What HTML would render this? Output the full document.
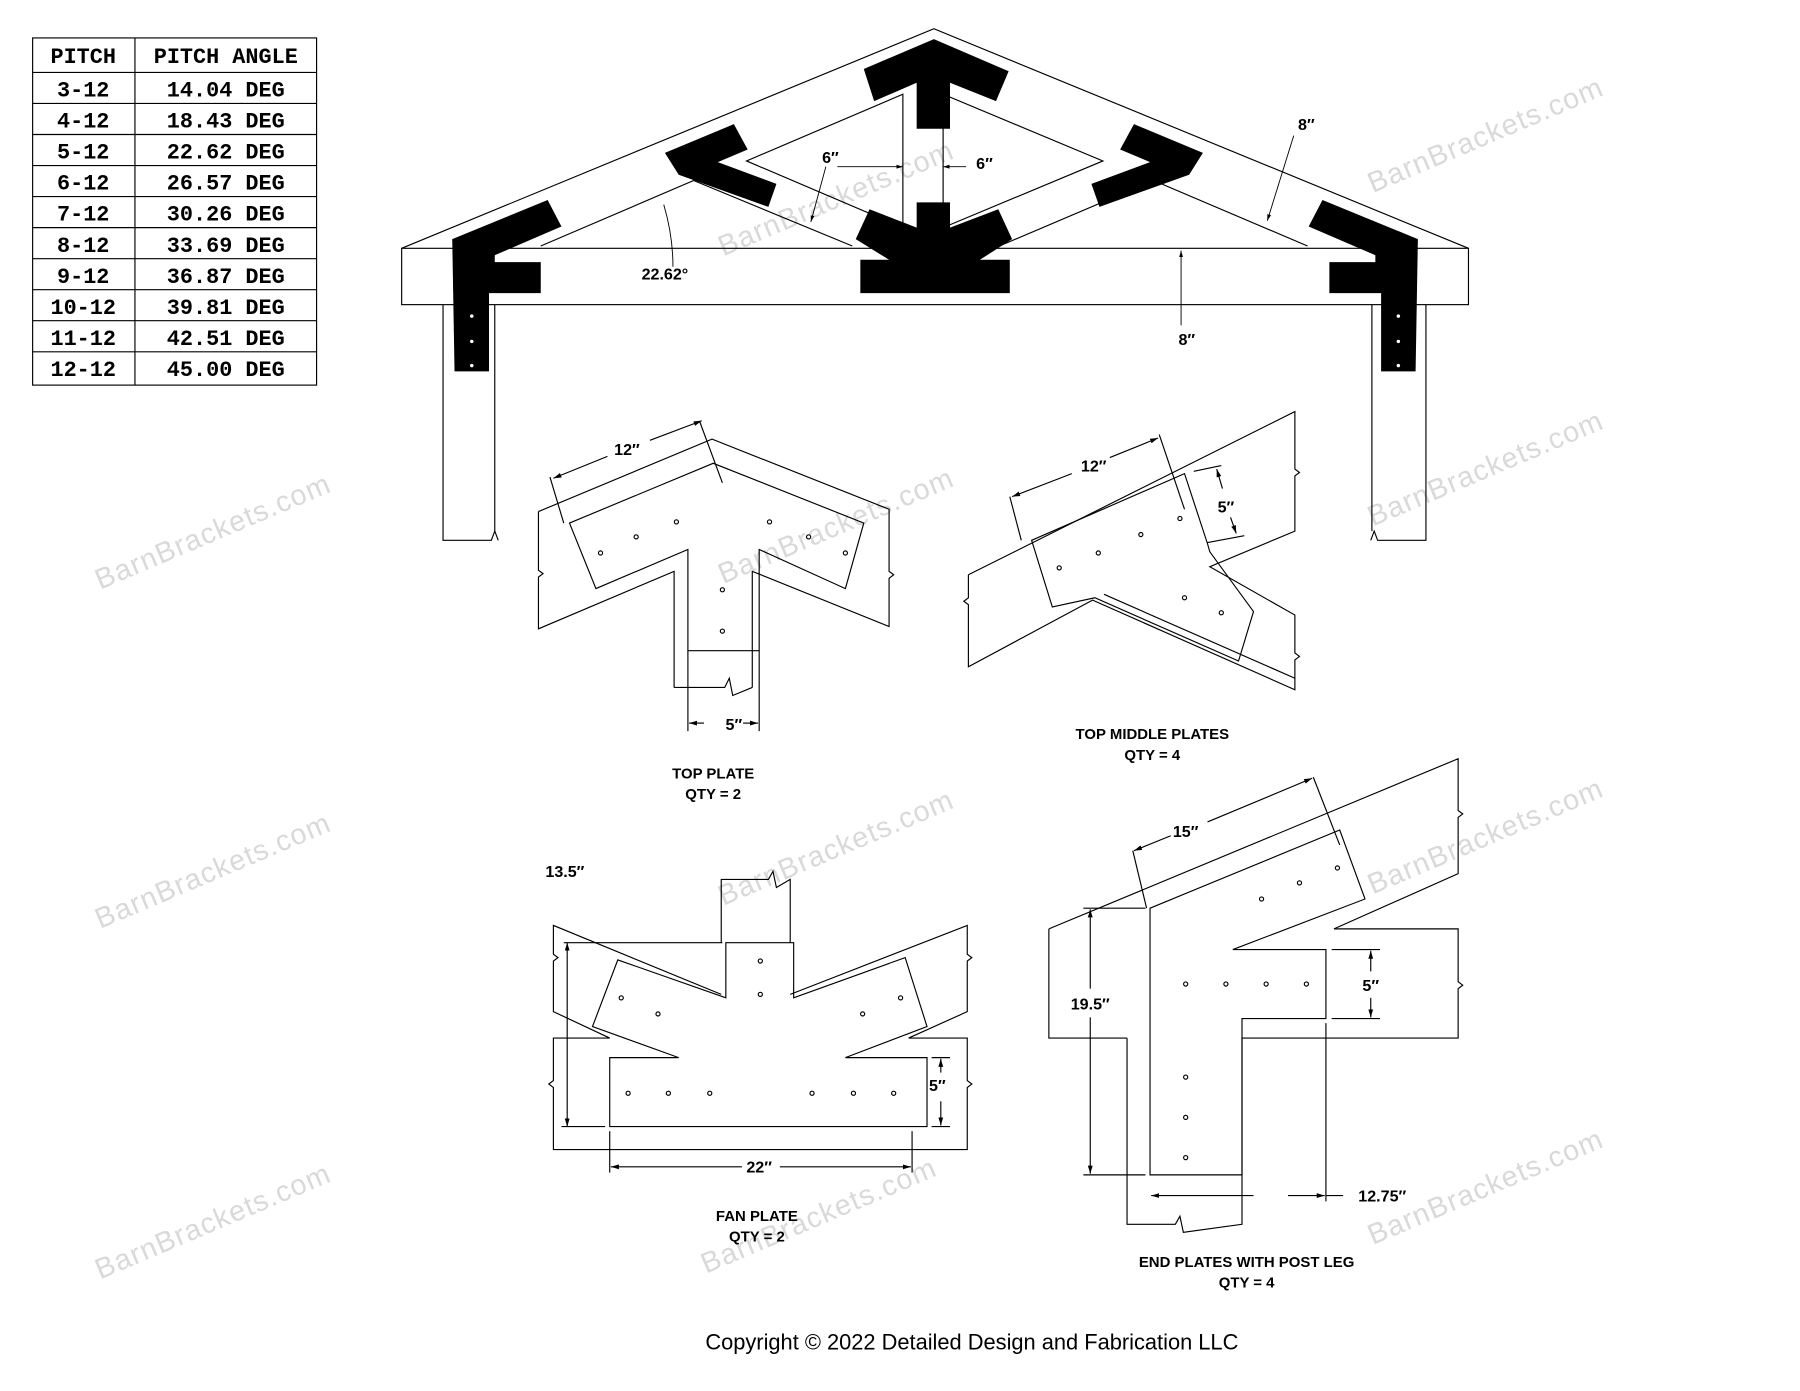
<!DOCTYPE html>
<html><head><meta charset="utf-8"><style>
html,body{margin:0;padding:0;background:#fff;}
svg{display:block}
text{font-family:"Liberation Sans",sans-serif;}
.t text{font-family:"Liberation Mono",monospace;font-weight:bold;font-size:19px;}
.l{font-size:13px;font-weight:bold;text-anchor:middle;}
.d{font-size:14px;font-weight:bold;text-anchor:middle;}
.w{font-size:25px;fill:#d9d9d9;text-anchor:middle;letter-spacing:1px;}
</style></head><body>
<svg width="1800" height="1391" viewBox="0 0 1565 1210" xmlns="http://www.w3.org/2000/svg">
<defs>
<marker id="a" viewBox="0 0 10 10" refX="10" refY="5" markerWidth="7" markerHeight="7" orient="auto-start-reverse"><path d="M0,2 L10,5 L0,8z" fill="#000"/></marker>
</defs>
<!-- watermarks -->
<g>
<text class="w" transform="translate(188,470) rotate(-23)">BarnBrackets.com</text>
<text class="w" transform="translate(188,765) rotate(-23)">BarnBrackets.com</text>
<text class="w" transform="translate(188,1070) rotate(-23)">BarnBrackets.com</text>
<text class="w" transform="translate(730,180) rotate(-23)">BarnBrackets.com</text>
<text class="w" transform="translate(730,465) rotate(-23)">BarnBrackets.com</text>
<text class="w" transform="translate(730,745) rotate(-23)">BarnBrackets.com</text>
<text class="w" transform="translate(715,1065) rotate(-23)">BarnBrackets.com</text>
<text class="w" transform="translate(1295,125) rotate(-23)">BarnBrackets.com</text>
<text class="w" transform="translate(1295,415) rotate(-23)">BarnBrackets.com</text>
<text class="w" transform="translate(1295,735) rotate(-23)">BarnBrackets.com</text>
<text class="w" transform="translate(1295,1040) rotate(-23)">BarnBrackets.com</text>
</g>

<!-- pitch table -->
<g stroke="#000" stroke-width="1" fill="none">
<rect x="28" y="33" width="247" height="302"/>
<line x1="117" y1="33" x2="117" y2="335"/>
<line x1="28" y1="63" x2="275" y2="63"/>
<line x1="28" y1="90" x2="275" y2="90"/><line x1="28" y1="117" x2="275" y2="117"/>
<line x1="28" y1="144" x2="275" y2="144"/><line x1="28" y1="171" x2="275" y2="171"/>
<line x1="28" y1="198" x2="275" y2="198"/><line x1="28" y1="225" x2="275" y2="225"/>
<line x1="28" y1="252" x2="275" y2="252"/><line x1="28" y1="279" x2="275" y2="279"/>
<line x1="28" y1="306" x2="275" y2="306"/>
</g>
<g class="t" text-anchor="middle">
<text x="72" y="55">PITCH</text><text x="196" y="55">PITCH ANGLE</text>
<text x="72" y="84">3-12</text><text x="196" y="84">14.04 DEG</text>
<text x="72" y="111">4-12</text><text x="196" y="111">18.43 DEG</text>
<text x="72" y="138">5-12</text><text x="196" y="138">22.62 DEG</text>
<text x="72" y="165">6-12</text><text x="196" y="165">26.57 DEG</text>
<text x="72" y="192">7-12</text><text x="196" y="192">30.26 DEG</text>
<text x="72" y="219">8-12</text><text x="196" y="219">33.69 DEG</text>
<text x="72" y="246">9-12</text><text x="196" y="246">36.87 DEG</text>
<text x="72" y="273">10-12</text><text x="196" y="273">39.81 DEG</text>
<text x="72" y="300">11-12</text><text x="196" y="300">42.51 DEG</text>
<text x="72" y="327">12-12</text><text x="196" y="327">45.00 DEG</text>
</g>

<!-- main truss -->
<g stroke="#000" stroke-width="1" fill="none">
<polyline points="349,216 812,25 1277,216"/>
<rect x="349" y="216" width="928" height="49"/>
<polyline points="385,265 385,470 427,470 430,462 433,470"/>
<line x1="430" y1="265" x2="430" y2="462"/>
<polyline points="1240,265 1240,470 1198,470 1195,462 1192,470"/>
<line x1="1193" y1="265" x2="1193" y2="462"/>
<polyline points="470,214 603,157 741,214"/>
<polyline points="869,214 1003,157 1137,214"/>
<polyline points="785,198 649,140 785,82 785,198"/>
<polyline points="820,198 959,140 820,82 820,198"/>
</g>
<!-- black brackets -->
<g fill="#000">
<polygon points="751,60 812,34 877,62 866,88 826,72 826,112 797,112 797,72 760,88"/>
<polygon points="797,176 826,176 826,198 868,182 880,208 852,226 878,226 878,255 748,255 748,226 773,226 744,208 756,182 797,198"/>
<polygon points="578,133 638,108 650,130 624,141 675,160 668,180 590,152"/>
<polygon points="1046,133 986,108 974,130 1000,141 949,160 956,180 1034,152"/>
<polygon points="393,208 476,174 488,197 430,222 430,228 470,228 470,255 425,255 425,323 395,323"/>
<polygon points="1233,208 1150,174 1138,197 1196,222 1196,228 1156,228 1156,255 1201,255 1201,323 1231,323"/>
</g>
<g fill="#fff">
<circle cx="410" cy="275" r="1.5"/><circle cx="410" cy="297" r="1.5"/><circle cx="410" cy="318" r="1.5"/>
<circle cx="1216" cy="275" r="1.5"/><circle cx="1216" cy="297" r="1.5"/><circle cx="1216" cy="318" r="1.5"/>
</g>
<!-- main dims -->
<g stroke="#000" stroke-width="0.8" fill="none">
<line x1="728" y1="145" x2="785" y2="145" marker-end="url(#a)"/>
<line x1="840" y1="145" x2="820" y2="145" marker-end="url(#a)"/>
<line x1="718" y1="145" x2="705" y2="193" marker-end="url(#a)"/>
<line x1="1125" y1="118" x2="1102" y2="192" marker-end="url(#a)"/>
<line x1="1027" y1="283" x2="1027" y2="218" marker-end="url(#a)"/>
<path d="M577,178 Q585,205 585,232"/>
</g>
<g class="d">
<text x="722" y="142">6″</text><text x="856" y="147">6″</text>
<text x="1136" y="113">8″</text><text x="1032" y="300">8″</text>
<text x="578" y="243">22.62°</text>
</g>

<!-- top plate detail -->
<g stroke="#000" stroke-width="1" fill="none">
<polyline points="468,445 619,382 773,443 773,497 777,500 773,503 773,545 654,497 654,598"/>
<polyline points="586,598 586,497 468,547 468,502 472,499 468,496 468,445"/>
<polyline points="586,598 630,598 634,590 637,605 654,598"/>
<polygon points="495,455 620,403 751,455 735,512 660,478 660,566 598,566 598,478 518,512"/>
<line x1="598" y1="566" x2="598" y2="636"/><line x1="660" y1="566" x2="660" y2="636"/>
<line x1="612" y1="629" x2="599" y2="629" marker-end="url(#a)"/>
<line x1="646" y1="629" x2="659" y2="629" marker-end="url(#a)"/>
<line x1="478" y1="415" x2="490" y2="455"/>
<line x1="608" y1="366" x2="628" y2="420"/>
<line x1="528" y1="397" x2="481" y2="416" marker-end="url(#a)"/>
<line x1="565" y1="383" x2="610" y2="366" marker-end="url(#a)"/>
<circle cx="522" cy="481" r="1.8"/><circle cx="553" cy="467" r="1.8"/><circle cx="588" cy="454" r="1.8"/>
<circle cx="669" cy="454" r="1.8"/><circle cx="703" cy="467" r="1.8"/><circle cx="735" cy="481" r="1.8"/>
<circle cx="628" cy="513" r="1.8"/><circle cx="628" cy="549" r="1.8"/>
</g>
<g class="d"><text x="545" y="396">12″</text><text x="638" y="635">5″</text></g>
<g class="l"><text x="620" y="677">TOP PLATE</text><text x="620" y="695">QTY = 2</text></g>

<!-- top middle plates -->
<g stroke="#000" stroke-width="1" fill="none">
<polyline points="842,500 1126,358 1126,408 1130,411 1126,414 1126,462 1052,493 1126,535 1126,568 1130,571 1126,574 1126,600 950,522 842,580 842,526 838,523 842,520 842,500"/>
<line x1="960" y1="517" x2="1126" y2="590"/>
<polygon points="897,470 1030,412 1050,473 1052,480 1090,532 1077,575 952,520 915,528"/>
<line x1="878" y1="432" x2="888" y2="470"/><line x1="1008" y1="378" x2="1030" y2="443"/>
<line x1="932" y1="412" x2="880" y2="432" marker-end="url(#a)"/>
<line x1="965" y1="398" x2="1007" y2="381" marker-end="url(#a)"/>
<line x1="1038" y1="410" x2="1062" y2="405"/><line x1="1050" y1="472" x2="1082" y2="466"/>
<line x1="1063" y1="425" x2="1058" y2="408" marker-end="url(#a)"/>
<line x1="1070" y1="450" x2="1075" y2="464" marker-end="url(#a)"/>
<circle cx="921" cy="494" r="1.8"/><circle cx="955" cy="481" r="1.8"/><circle cx="992" cy="465" r="1.8"/><circle cx="1026" cy="451" r="1.8"/>
<circle cx="1030" cy="520" r="1.8"/><circle cx="1062" cy="533" r="1.8"/>
</g>
<g class="d"><text x="951" y="410">12″</text><text x="1066" y="446">5″</text></g>
<g class="l"><text x="1002" y="643">TOP MIDDLE PLATES</text><text x="1002" y="661">QTY = 4</text></g>

<!-- fan plate -->
<g stroke="#000" stroke-width="1" fill="none">
<polyline points="627,820 627,765 668,765 672,758 675,772 687,765 687,820"/>
<polyline points="627,865 481,805 481,830 485,833 481,836 481,880 530,903"/>
<polyline points="687,865 841,805 841,830 845,833 841,836 841,880 790,903"/>
<polyline points="530,903 481,903 481,940 477,943 481,946 481,1000 841,1000 841,946 845,943 841,940 841,903 790,903"/>
<polygon points="631,820 690,820 690,868 787,833 806,893 735,920 806,920 806,980 530,980 530,920 590,920 515,893 537,835 631,868"/>
<line x1="490" y1="820" x2="628" y2="820"/>
<line x1="493" y1="830" x2="493" y2="820" marker-end="url(#a)"/>
<line x1="493" y1="970" x2="493" y2="980" marker-end="url(#a)"/>
<line x1="493" y1="830" x2="493" y2="970"/>
<line x1="488" y1="980" x2="526" y2="980"/>
<line x1="810" y1="920" x2="826" y2="920"/><line x1="810" y1="980" x2="826" y2="980"/>
<line x1="818" y1="933" x2="818" y2="921" marker-end="url(#a)"/>
<line x1="818" y1="958" x2="818" y2="979" marker-end="url(#a)"/>
<line x1="530" y1="984" x2="530" y2="1020"/><line x1="793" y1="984" x2="793" y2="1020"/>
<line x1="645" y1="1015" x2="531" y2="1015" marker-end="url(#a)"/>
<line x1="678" y1="1015" x2="792" y2="1015" marker-end="url(#a)"/>
<circle cx="661" cy="836" r="1.8"/><circle cx="661" cy="865" r="1.8"/>
<circle cx="540" cy="868" r="1.8"/><circle cx="572" cy="882" r="1.8"/><circle cx="750" cy="882" r="1.8"/><circle cx="783" cy="868" r="1.8"/>
<circle cx="546" cy="951" r="1.8"/><circle cx="581" cy="951" r="1.8"/><circle cx="617" cy="951" r="1.8"/>
<circle cx="706" cy="951" r="1.8"/><circle cx="742" cy="951" r="1.8"/><circle cx="777" cy="951" r="1.8"/>
</g>
<g class="d"><text x="491" y="763">13.5″</text><text x="815" y="949">5″</text><text x="660" y="1020">22″</text></g>
<g class="l"><text x="658" y="1062">FAN PLATE</text><text x="658" y="1080">QTY = 2</text></g>

<!-- end plate -->
<g stroke="#000" stroke-width="1" fill="none">
<polyline points="912,808 1268,660 1268,705 1272,708 1268,711 1268,760 1160,808"/>
<polyline points="912,808 912,903 980,903"/><polyline points="1080,903 1268,903 1268,860 1272,857 1268,854 1268,808 1160,808"/>
<polyline points="980,903 980,1065 1022,1065 1026,1058 1029,1072 1080,1065 1080,903"/>
<polygon points="1000,790 1165,722 1187,782 1072,826 1153,826 1153,886 1080,886 1080,1022 1000,1022"/>
<line x1="985" y1="740" x2="997" y2="790"/><line x1="1142" y1="676" x2="1165" y2="735"/>
<line x1="1018" y1="727" x2="986" y2="740" marker-end="url(#a)"/>
<line x1="1050" y1="715" x2="1141" y2="677" marker-end="url(#a)"/>
<line x1="942" y1="790" x2="996" y2="790"/><line x1="942" y1="1022" x2="996" y2="1022"/>
<line x1="948" y1="860" x2="948" y2="791" marker-end="url(#a)"/>
<line x1="948" y1="885" x2="948" y2="1021" marker-end="url(#a)"/>
<line x1="1158" y1="826" x2="1200" y2="826"/><line x1="1158" y1="886" x2="1200" y2="886"/>
<line x1="1192" y1="845" x2="1192" y2="827" marker-end="url(#a)"/>
<line x1="1192" y1="868" x2="1192" y2="885" marker-end="url(#a)"/>
<line x1="1153" y1="890" x2="1153" y2="1045"/>
<line x1="1090" y1="1040" x2="1001" y2="1040" marker-end="url(#a)"/>
<line x1="1120" y1="1040" x2="1152" y2="1040" marker-end="url(#a)"/>
<line x1="1153" y1="1040" x2="1168" y2="1040"/>
<circle cx="1031" cy="856" r="1.8"/><circle cx="1066" cy="856" r="1.8"/><circle cx="1101" cy="856" r="1.8"/><circle cx="1136" cy="856" r="1.8"/>
<circle cx="1031" cy="937" r="1.8"/><circle cx="1031" cy="972" r="1.8"/><circle cx="1031" cy="1007" r="1.8"/>
<circle cx="1097" cy="782" r="1.8"/><circle cx="1130" cy="768" r="1.8"/><circle cx="1163" cy="755" r="1.8"/>
</g>
<g class="d"><text x="1031" y="728">15″</text><text x="948" y="878">19.5″</text><text x="1192" y="862">5″</text><text x="1202" y="1045">12.75″</text></g>
<g class="l"><text x="1084" y="1102">END PLATES WITH POST LEG</text><text x="1084" y="1120">QTY = 4</text></g>

<text x="845" y="1174" text-anchor="middle" font-size="19">Copyright © 2022 Detailed Design and Fabrication LLC</text>
</svg>
</body></html>
